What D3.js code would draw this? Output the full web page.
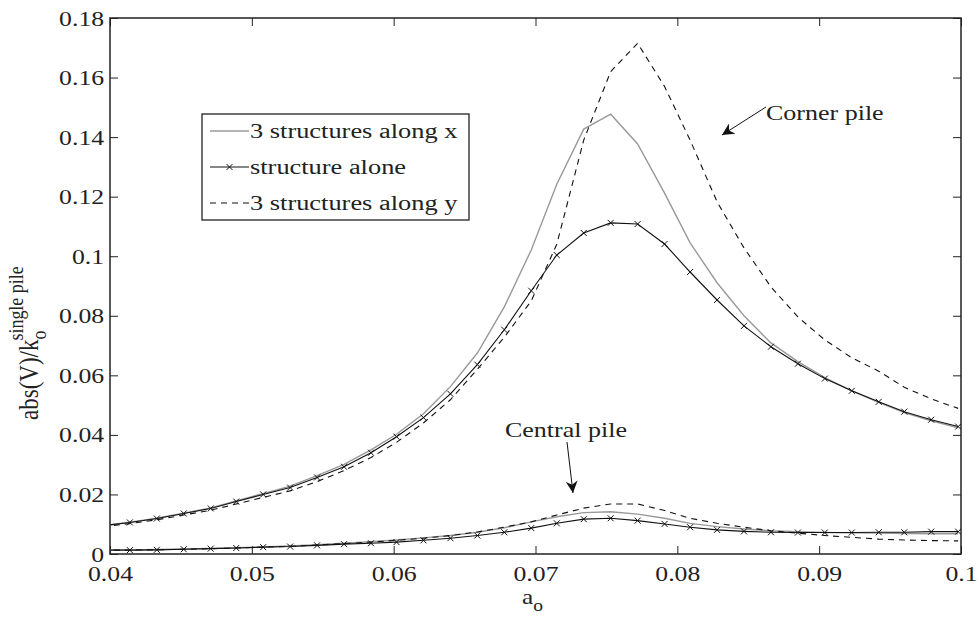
<!DOCTYPE html>
<html>
<head>
<meta charset="utf-8">
<script src="https://cdn.jsdelivr.net/npm/d3@7"></script>
<style>
  body { margin: 0; background: #fff; }
  svg text { font-family: "Liberation Serif", "Times New Roman", serif; }
</style>
</head>
<body>
<div class="svg-canvas"></div>
<script>
// a_o sample points (first one lies left of the axis and is clipped)
var aO = [0.0395, 0.0414, 0.0433, 0.0452, 0.0471, 0.0489, 0.0508, 0.0527, 0.0546, 0.0565,
          0.0584, 0.0602, 0.0621, 0.0640, 0.0659, 0.0678, 0.0697, 0.0715, 0.0734, 0.0753,
          0.0772, 0.0791, 0.0809, 0.0828, 0.0847, 0.0866, 0.0885, 0.0904, 0.0923, 0.0942,
          0.0960, 0.0979, 0.0998];

// corner pile
var cornerAlongX = [0.0095, 0.0107, 0.0120, 0.0137, 0.0155, 0.0178, 0.0203, 0.0228, 0.0263, 0.0301,
                    0.0350, 0.0402, 0.0471, 0.0562, 0.0675, 0.0830, 0.1021, 0.1242, 0.1427, 0.1477,
                    0.1377, 0.1212, 0.1045, 0.0911, 0.0800, 0.0709, 0.0646, 0.0592, 0.0548, 0.0509,
                    0.0475, 0.0447, 0.0424];
var cornerAlone = [0.0095, 0.0106, 0.0119, 0.0136, 0.0153, 0.0176, 0.0200, 0.0223, 0.0257, 0.0293,
                   0.0340, 0.0394, 0.0458, 0.0538, 0.0636, 0.0753, 0.0884, 0.1004, 0.1078, 0.1112,
                   0.1108, 0.1041, 0.0947, 0.0853, 0.0766, 0.0696, 0.0639, 0.0589, 0.0548, 0.0511,
                   0.0478, 0.0451, 0.0428];
var cornerAlongY = [0.0092, 0.0102, 0.0115, 0.0131, 0.0147, 0.0168, 0.0190, 0.0212, 0.0243, 0.0280,
                    0.0324, 0.0375, 0.0440, 0.0518, 0.0620, 0.0728, 0.0850, 0.1040, 0.1390, 0.1620,
                    0.1715, 0.1570, 0.1390, 0.1183, 0.1028, 0.0897, 0.0796, 0.0719, 0.0659, 0.0614,
                    0.0560, 0.0521, 0.0489];

// central pile
var centralAlongX = [0.0014, 0.0014, 0.0015, 0.0017, 0.0019, 0.0021, 0.0024, 0.0027, 0.0031, 0.0036,
                     0.0041, 0.0047, 0.0054, 0.0062, 0.0073, 0.0088, 0.0108, 0.0125, 0.0139, 0.0142,
                     0.0134, 0.0120, 0.0103, 0.0092, 0.0084, 0.0078, 0.0075, 0.0072, 0.0071, 0.0070,
                     0.0069, 0.0068, 0.0068];
var centralAlone = [0.0013, 0.0013, 0.0014, 0.0016, 0.0018, 0.0020, 0.0023, 0.0025, 0.0029, 0.0033,
                    0.0036, 0.0040, 0.0046, 0.0053, 0.0062, 0.0073, 0.0087, 0.0103, 0.0117, 0.0120,
                    0.0112, 0.0101, 0.0090, 0.0081, 0.0076, 0.0073, 0.0072, 0.0072, 0.0072, 0.0073,
                    0.0073, 0.0075, 0.0075];
var centralAlongY = [0.0013, 0.0013, 0.0014, 0.0016, 0.0018, 0.0020, 0.0023, 0.0026, 0.0030, 0.0035,
                     0.0040, 0.0046, 0.0053, 0.0062, 0.0074, 0.0090, 0.0108, 0.0131, 0.0154, 0.0168,
                     0.0168, 0.0146, 0.0120, 0.0103, 0.0090, 0.0078, 0.0070, 0.0062, 0.0056, 0.0050,
                     0.0047, 0.0045, 0.0044];

var xTicks = [0.04, 0.05, 0.06, 0.07, 0.08, 0.09, 0.1];
var yTicks = [0, 0.02, 0.04, 0.06, 0.08, 0.1, 0.12, 0.14, 0.16, 0.18];
var legendLabels = ["3 structures along x", "structure alone", "3 structures along y"];

var W = 980, H = 619;
var m = {top: 18, left: 110, right: 19, bottom: 65};
var FONT = "Liberation Serif";

var svg = d3.select(".svg-canvas").append("svg")
    .attr("width", W)
    .attr("height", H);

var x = d3.scaleLinear().domain([0.04, 0.1]).range([m.left, W - m.right]);
var y = d3.scaleLinear().domain([0, 0.18]).range([H - m.bottom, m.top]);

var defs = svg.append("defs");
defs.append("clipPath").attr("id", "plot")
  .append("rect")
    .attr("x", m.left).attr("y", m.top)
    .attr("width", W - m.left - m.right)
    .attr("height", H - m.top - m.bottom);

// the picture is a bit wider than tall, so text gets stretched sideways
function addText(parent, px, py, str, size, sx) {
  return parent.append("text")
      .attr("transform", "translate(" + px + "," + py + ") scale(" + sx + ",1)")
      .attr("font-family", FONT)
      .attr("font-size", size)
      .attr("fill", "#222")
      .text(str);
}

var fmt = function(d){ return d === 0 ? "0" : String(d); };
var tickLen = 8;

// axes, ticks inside, mirrored MATLAB style
svg.append("g").attr("transform", "translate(0," + (H - m.bottom) + ")")
    .call(d3.axisBottom(x).tickValues(xTicks).tickSize(-tickLen).tickPadding(11).tickFormat(fmt));
svg.append("g").attr("transform", "translate(0," + m.top + ")")
    .call(d3.axisTop(x).tickValues(xTicks).tickSize(-tickLen).tickFormat(""));
svg.append("g").attr("transform", "translate(" + m.left + ",0)")
    .call(d3.axisLeft(y).tickValues(yTicks).tickSize(-tickLen).tickPadding(5).tickFormat(fmt));
svg.append("g").attr("transform", "translate(" + (W - m.right) + ",0)")
    .call(d3.axisRight(y).tickValues(yTicks).tickSize(-tickLen).tickFormat(""));

svg.selectAll(".domain").remove();
svg.selectAll(".tick line").attr("stroke", "#222").attr("stroke-width", 1);
svg.selectAll(".tick text")
    .attr("fill", "#222")
    .attr("font-family", FONT)
    .attr("font-size", 22)
    .attr("transform", "scale(1.17,1)");

svg.append("rect")
    .attr("x", m.left).attr("y", m.top)
    .attr("width", W - m.left - m.right)
    .attr("height", H - m.top - m.bottom)
    .attr("fill", "none")
    .attr("stroke", "#222")
    .attr("stroke-width", 1.5);

// curves
var line = d3.line()
    .x(function(d){ return x(d[0]); })
    .y(function(d){ return y(d[1]); });

var series = [
  {vals: cornerAlongX, color: "#999", dash: null, mark: false},
  {vals: cornerAlongY, color: "#111", dash: "6,5", mark: false},
  {vals: cornerAlone, color: "#111", dash: null, mark: true},
  {vals: centralAlongX, color: "#999", dash: null, mark: false},
  {vals: centralAlongY, color: "#111", dash: "6,5", mark: false},
  {vals: centralAlone, color: "#111", dash: null, mark: true}
];

var plot = svg.append("g").attr("clip-path", "url(#plot)");

series.forEach(function(s){
  var pts = aO.map(function(a, i){ return [a, s.vals[i]]; });
  plot.append("path")
      .datum(pts)
      .attr("d", line)
      .attr("fill", "none")
      .attr("stroke", s.color)
      .attr("stroke-width", s.color === "#999" ? 1.4 : 1.1)
      .attr("stroke-dasharray", s.dash);
  if (s.mark) {
    plot.selectAll(null)
        .data(pts.slice(1))
        .enter()
        .append("path")
        .attr("transform", function(d){ return "translate(" + x(d[0]) + "," + y(d[1]) + ")"; })
        .attr("d", "M-3,-3L3,3M-3,3L3,-3")
        .attr("stroke", "#111")
        .attr("stroke-width", 1);
  }
});

// legend
var lg = svg.append("g");
lg.append("rect")
    .attr("x", 202).attr("y", 114)
    .attr("width", 267).attr("height", 106)
    .attr("fill", "#fff")
    .attr("stroke", "#222")
    .attr("stroke-width", 1.3);

var legendStyles = [
  {color: "#999", dash: null, mark: false},
  {color: "#111", dash: null, mark: true},
  {color: "#111", dash: "6,5", mark: false}
];
legendLabels.forEach(function(t, i){
  var cy = 131 + i * 36;
  lg.append("line")
      .attr("x1", 210).attr("x2", 249)
      .attr("y1", cy).attr("y2", cy)
      .attr("stroke", legendStyles[i].color)
      .attr("stroke-width", legendStyles[i].color === "#999" ? 1.4 : 1.1)
      .attr("stroke-dasharray", legendStyles[i].dash);
  if (legendStyles[i].mark) {
    lg.append("path")
        .attr("transform", "translate(229.5," + cy + ")")
        .attr("d", "M-3,-3L3,3M-3,3L3,-3")
        .attr("stroke", "#111");
  }
  addText(lg, 250, cy + 7, t, 20, 1.32);
});

// annotations
defs.append("marker")
    .attr("id", "head")
    .attr("viewBox", "0 0 10 10")
    .attr("refX", 10).attr("refY", 5)
    .attr("markerWidth", 12).attr("markerHeight", 12)
    .attr("markerUnits", "userSpaceOnUse")
    .attr("orient", "auto")
  .append("path")
    .attr("d", "M0,0L10,5L0,10L3,5Z")
    .attr("fill", "#111");

addText(svg, 766, 120, "Corner pile", 20, 1.3);
svg.append("line")
    .attr("x1", 766).attr("y1", 107)
    .attr("x2", 722).attr("y2", 135)
    .attr("stroke", "#111")
    .attr("marker-end", "url(#head)");

addText(svg, 505, 437, "Central pile", 20, 1.3);
svg.append("line")
    .attr("x1", 567).attr("y1", 442)
    .attr("x2", 573).attr("y2", 493)
    .attr("stroke", "#111")
    .attr("marker-end", "url(#head)");

// axis titles
var xl = addText(svg, 522, 604, "", 22, 1.15);
xl.append("tspan").text("a");
xl.append("tspan").attr("dy", 7).attr("font-size", 17).text("o");

var yl = svg.append("text")
    .attr("transform", "translate(38,420) rotate(-90) scale(1,1.15)")
    .attr("font-family", FONT)
    .attr("font-size", 23)
    .attr("fill", "#222");
yl.append("tspan").text("abs(V)/k");
yl.append("tspan").attr("dy", 7).attr("font-size", 18).text("o");
yl.append("tspan").attr("dx", -10).attr("dy", -20).attr("font-size", 18).text("single pile");
</script>
</body>
</html>
